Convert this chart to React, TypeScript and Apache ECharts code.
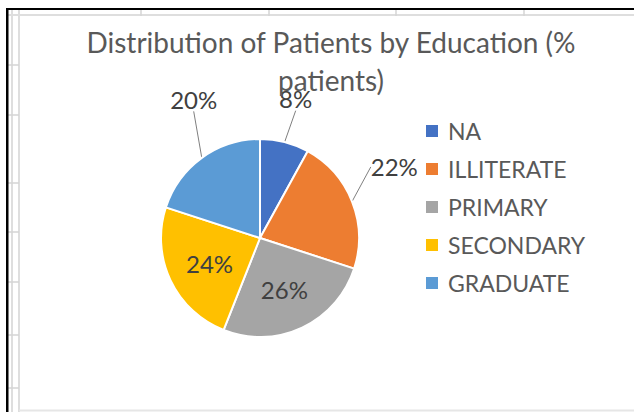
import React, { useEffect, useRef } from "react";
import * as echarts from "echarts";

// ---- data ----
const categories = ["NA", "ILLITERATE", "PRIMARY", "SECONDARY", "GRADUATE"];
const percentValues = [8, 22, 26, 24, 20];
const titleText = "Distribution of Patients by Education (%\npatients)";

// ---- styles (not data) ----
const sliceColors = ["#4472C4", "#ED7D31", "#A5A5A5", "#FFC000", "#5B9BD5"];
const labelPlacement = ["outside", "outside", "inside", "inside", "outside"];
// offsets applied to the library's default label boxes
const labelOffsets: [number, number][] = [
  [-15, -26],
  [-3, -28],
  [2, 4],
  [-3, 3],
  [31, -44],
];
const rowTicks = [65, 115, 183, 232, 282, 335, 388];
const colTicks = [141, 269, 396, 524];
const FONT = "Lato, 'Open Sans', sans-serif";

export default function App() {
  const ref = useRef<HTMLDivElement>(null);

  useEffect(() => {
    if (!ref.current) return;
    const chart = echarts.init(ref.current, undefined, { renderer: "svg" });

    const grid: any[] = [];
    const gray = "#dedede";
    grid.push({ type: "line", shape: { x1: 12, y1: 10, x2: 12, y2: 412 }, style: { stroke: gray, lineWidth: 2 }, silent: true });
    grid.push({ type: "line", shape: { x1: 19, y1: 10, x2: 19, y2: 412 }, style: { stroke: gray, lineWidth: 2 }, silent: true });
    grid.push({ type: "line", shape: { x1: 8, y1: 15, x2: 634, y2: 15 }, style: { stroke: gray, lineWidth: 2 }, silent: true });
    grid.push({ type: "line", shape: { x1: 19, y1: 410.5, x2: 634, y2: 410.5 }, style: { stroke: "#e6e6e6", lineWidth: 2 }, silent: true });
    rowTicks.forEach((y) =>
      grid.push({ type: "line", shape: { x1: 8, y1: y, x2: 19, y2: y }, style: { stroke: "#d4d4d4", lineWidth: 1.5 }, silent: true })
    );
    colTicks.forEach((x) =>
      grid.push({ type: "line", shape: { x1: x, y1: 10, x2: x, y2: 16 }, style: { stroke: "#d4d4d4", lineWidth: 1.5 }, silent: true })
    );
    grid.push({ type: "rect", shape: { x: 6, y: 8, width: 2.5, height: 404 }, style: { fill: "#000" }, silent: true });
    grid.push({ type: "rect", shape: { x: 6, y: 8, width: 628, height: 2 }, style: { fill: "#000" }, silent: true });

    chart.setOption({
      animation: false,
      backgroundColor: "#ffffff",
      title: {
        text: titleText,
        left: 331,
        top: 23,
        padding: 0,
        textAlign: "center",
        textStyle: {
          fontFamily: FONT,
          fontSize: 28,
          fontWeight: "normal",
          color: "#595959",
          lineHeight: 38,
        },
      },
      legend: {
        orient: "vertical",
        left: 424,
        top: 119,
        padding: 0,
        itemWidth: 14,
        itemHeight: 14,
        itemGap: 14,
        icon: "rect",
        data: categories,
        textStyle: {
          fontFamily: FONT,
          fontSize: 23,
          color: "#595959",
          lineHeight: 24,
          padding: [0, 0, 0, 4],
        },
      },
      graphic: grid,
      series: [
        {
          type: "pie",
          center: [260, 238],
          radius: 99,
          startAngle: 90,
          clockwise: true,
          avoidLabelOverlap: false,
          itemStyle: { borderColor: "#ffffff", borderWidth: 2 },
          label: {
            formatter: "{c}%",
            fontFamily: FONT,
            fontSize: 24,
            color: "#404040",
          },
          labelLine: {
            length: 18,
            length2: 0,
            lineStyle: { color: "#7f7f7f", width: 1 },
          },
          labelLayout: (params: any) => {
            const off = labelOffsets[params.dataIndex];
            return {
              x: params.labelRect.x + off[0],
              y: params.labelRect.y + off[1],
              align: "left",
              verticalAlign: "top",
            };
          },
          data: categories.map((name, i) => ({
            name,
            value: percentValues[i],
            itemStyle: { color: sliceColors[i] },
            label: { position: labelPlacement[i] },
            labelLine: { show: labelPlacement[i] === "outside" },
          })),
        },
      ],
    });

    return () => chart.dispose();
  }, []);

  return (
    <div
      ref={ref}
      style={{ position: "fixed", left: 0, top: 0, width: 634, height: 412, background: "#fff" }}
    />
  );
}
